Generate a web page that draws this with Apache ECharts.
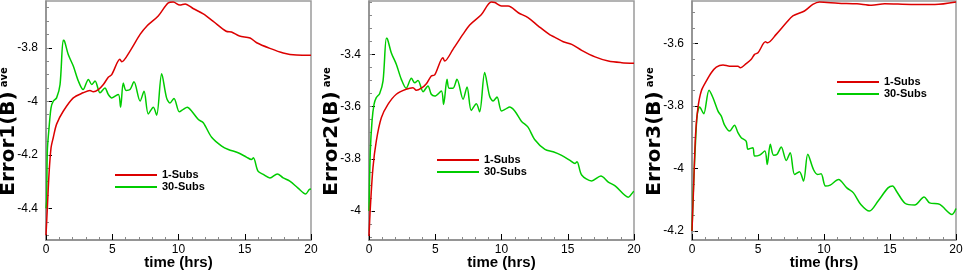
<!DOCTYPE html>
<html>
<head>
<meta charset="utf-8">
<script src="https://cdn.jsdelivr.net/npm/echarts@6/dist/echarts.min.js"></script>
<style>
  html, body { margin: 0; padding: 0; background: #fff; }
  #chart { width: 964px; height: 276px; }
</style>
</head>
<body>
<div id="chart"></div>
<script>
// time (hrs), value pairs
const err1Subs1 = [[0,-4.50],[0.1,-4.40],[0.23,-4.27],[0.38,-4.174],[0.55,-4.135],[0.8,-4.085],[1.3,-4.037],[2.06,-3.987],[2.8,-3.968],[3.32,-3.959],[3.57,-3.964],[3.95,-3.956],[4.33,-3.937],[4.7,-3.910],[4.96,-3.900],[5.58,-3.843],[5.71,-3.852],[6.34,-3.812],[7.1,-3.750],[7.6,-3.719],[8.47,-3.681],[9.23,-3.632],[9.6,-3.629],[10.1,-3.640],[10.5,-3.636],[11.1,-3.653],[11.87,-3.673],[12.6,-3.700],[13.6,-3.738],[14.0,-3.741],[14.6,-3.756],[15.4,-3.763],[15.9,-3.781],[16.9,-3.802],[17.9,-3.819],[18.9,-3.827],[20,-3.828]];
const err1Subs30 = [[0,-4.40],[0.05,-4.37],[0.1,-4.186],[0.23,-4.099],[0.38,-4.024],[0.55,-3.999],[0.8,-3.987],[1.06,-3.937],[1.3,-3.772],[1.4,-3.775],[1.68,-3.825],[2.06,-3.868],[2.44,-3.924],[2.8,-3.956],[3.2,-3.918],[3.45,-3.937],[3.7,-3.924],[4.08,-3.968],[4.45,-3.950],[4.7,-3.974],[4.96,-3.987],[5.46,-3.974],[5.63,-4.022],[5.83,-3.931],[6.04,-3.959],[6.34,-3.956],[6.64,-3.927],[7.1,-3.999],[7.4,-3.962],[7.72,-4.047],[8.1,-4.022],[8.35,-4.052],[8.73,-3.897],[9.1,-3.987],[9.36,-4.006],[9.66,-3.989],[10.06,-4.039],[10.36,-4.030],[10.66,-4.022],[11.0,-4.037],[11.5,-4.068],[11.87,-4.080],[12.5,-4.134],[13.26,-4.167],[13.76,-4.180],[14.5,-4.192],[15.15,-4.209],[15.5,-4.217],[15.65,-4.211],[16.0,-4.261],[16.4,-4.273],[16.9,-4.286],[17.46,-4.271],[17.9,-4.286],[18.4,-4.298],[19.0,-4.323],[19.6,-4.346],[19.87,-4.329],[20,-4.327]];

const err2Subs1 = [[0,-4.096],[0.1,-3.988],[0.3,-3.834],[0.55,-3.732],[0.93,-3.643],[1.43,-3.592],[2.06,-3.553],[2.8,-3.534],[3.32,-3.528],[3.57,-3.538],[3.95,-3.530],[4.33,-3.513],[4.7,-3.483],[4.96,-3.479],[5.58,-3.413],[5.71,-3.426],[6.34,-3.381],[7.1,-3.323],[7.6,-3.288],[8.47,-3.249],[9.23,-3.200],[9.5,-3.202],[10.0,-3.215],[10.5,-3.215],[11.27,-3.241],[12.0,-3.260],[12.78,-3.292],[13.66,-3.326],[14.0,-3.334],[14.66,-3.352],[15.3,-3.362],[16.05,-3.385],[17.06,-3.410],[18.06,-3.426],[19.07,-3.432],[20,-3.434]];
const err2Subs30 = [[0,-4.0],[0.1,-3.770],[0.23,-3.655],[0.38,-3.592],[0.55,-3.566],[0.8,-3.551],[1.06,-3.502],[1.31,-3.339],[1.4,-3.342],[1.68,-3.394],[2.06,-3.438],[2.44,-3.496],[2.8,-3.530],[3.2,-3.492],[3.45,-3.509],[3.7,-3.500],[4.08,-3.543],[4.45,-3.521],[4.7,-3.553],[4.96,-3.560],[5.46,-3.541],[5.63,-3.592],[5.89,-3.496],[6.04,-3.530],[6.34,-3.530],[6.64,-3.496],[7.1,-3.572],[7.4,-3.525],[7.72,-3.615],[8.1,-3.589],[8.35,-3.620],[8.73,-3.470],[9.1,-3.560],[9.36,-3.579],[9.66,-3.564],[10.0,-3.617],[10.4,-3.607],[10.6,-3.602],[11.0,-3.617],[11.5,-3.656],[12.0,-3.679],[12.5,-3.726],[13.28,-3.764],[13.9,-3.773],[14.5,-3.786],[15.17,-3.806],[15.55,-3.818],[15.7,-3.811],[16.05,-3.862],[16.8,-3.885],[17.5,-3.866],[18.06,-3.889],[18.6,-3.905],[19.57,-3.947],[19.95,-3.926],[20,-3.925]];

const err3Subs1 = [[0,-4.20],[0.12,-4.062],[0.27,-3.890],[0.45,-3.805],[0.7,-3.752],[1.08,-3.720],[1.46,-3.693],[1.84,-3.675],[2.35,-3.668],[2.85,-3.672],[3.48,-3.672],[3.66,-3.677],[4.1,-3.664],[4.49,-3.650],[4.74,-3.634],[5.0,-3.629],[5.57,-3.594],[5.73,-3.597],[6.38,-3.570],[7.14,-3.533],[7.64,-3.511],[8.52,-3.495],[9.15,-3.474],[9.66,-3.466],[11.07,-3.470],[12.5,-3.472],[13.6,-3.477],[14.6,-3.472],[16.6,-3.474],[18.4,-3.474],[20,-3.466]];
const err3Subs30 = [[0,-4.20],[0.12,-4.050],[0.27,-3.912],[0.4,-3.826],[0.58,-3.803],[0.83,-3.821],[0.9,-3.824],[1.29,-3.749],[1.59,-3.773],[1.97,-3.816],[2.22,-3.832],[2.47,-3.861],[2.85,-3.880],[3.22,-3.861],[3.48,-3.885],[3.73,-3.901],[4.1,-3.912],[4.24,-3.938],[4.61,-3.933],[4.74,-3.960],[5.12,-3.957],[5.52,-3.944],[5.7,-3.987],[5.93,-3.922],[6.18,-3.957],[6.43,-3.955],[6.76,-3.931],[7.14,-3.974],[7.44,-3.949],[7.77,-4.019],[8.14,-4.010],[8.45,-4.040],[8.77,-3.954],[9.2,-4.003],[9.52,-4.019],[9.78,-4.017],[10.11,-4.056],[10.47,-4.053],[11.1,-4.035],[11.73,-4.062],[12.23,-4.078],[12.79,-4.115],[13.44,-4.136],[14.1,-4.104],[14.85,-4.062],[15.2,-4.056],[15.48,-4.072],[16.16,-4.112],[16.87,-4.117],[17.58,-4.091],[18.0,-4.110],[18.77,-4.115],[19.7,-4.147],[20,-4.128]];

// y tick labels per panel
const yTicks1 = [-4.4, -4.2, -4, -3.8];
const yTicks2 = [-4, -3.8, -3.6, -3.4];
const yTicks3 = [-4.2, -4, -3.8, -3.6];
const yRange1 = [-4.518, -3.625];
const yRange2 = [-4.111, -3.196];
const yRange3 = [-4.229, -3.463];
const yNames = ['Error1(B)', 'Error2(B)', 'Error3(B)'];
const seriesNames = ['1-Subs', '30-Subs'];

const RED = '#dc0000';
const GREEN = '#00cc00';
const FONT = 'Liberation Sans, Arial, sans-serif';
const TITLE_FONT = 'DejaVu Sans, sans-serif';

function minorTicks(range) {
    // every 0.05 inside the range
    let out = [];
    let start = Math.ceil(range[0] / 0.05 - 1e-6);
    for (let k = start; k * 0.05 <= range[1] + 1e-9; k++) {
        out.push(Math.round(k * 5) / 100);
    }
    return out;
}

const chart = echarts.init(document.getElementById('chart'));

const grids = [
    {left: 46, top: 1, width: 265, height: 239},
    {left: 369, top: 1, width: 265, height: 239},
    {left: 692, top: 1, width: 264, height: 239}
].map(g => Object.assign({show: true, borderColor: '#9a9a9a', borderWidth: 1.5,
    containLabel: false, outerBoundsMode: 'none'}, g));

const ranges = [yRange1, yRange2, yRange3];
const ticks = [yTicks1, yTicks2, yTicks3];

const xAxes = [0, 1, 2].map(i => ({
    type: 'value', gridIndex: i, min: 0, max: 20, interval: 5,
    axisLine: {lineStyle: {color: '#8c8c8c', width: 1.5}},
    axisTick: {inside: true, length: 6, lineStyle: {color: '#000'}},
    minorTick: {show: true, splitNumber: 5, length: 3, lineStyle: {color: '#888'}},
    splitLine: {show: false},
    axisLabel: {color: '#000', fontSize: 12, fontFamily: FONT, margin: 4},
    name: 'time (hrs)', nameLocation: 'middle', nameGap: 15, nameMoveOverlap: false,
    nameTextStyle: {color: '#000', fontSize: 15, fontWeight: 'bold', fontFamily: FONT}
}));

const yMajor = [0, 1, 2].map(i => ({
    type: 'value', gridIndex: i, position: 'left', min: ranges[i][0], max: ranges[i][1],
    axisLine: {show: true, lineStyle: {color: '#8c8c8c', width: 1.5}},
    axisTick: {show: true, inside: true, length: 6, customValues: ticks[i], lineStyle: {color: '#000'}},
    axisLabel: {color: '#000', fontSize: 12, fontFamily: FONT, margin: 8,
        customValues: ticks[i], formatter: v => String(v)},
    splitLine: {show: false},
    name: '{t|' + yNames[i] + '}{s|ave}', nameLocation: 'middle', nameGap: 28, nameMoveOverlap: false,
    nameTextStyle: {
        color: '#000', fontFamily: TITLE_FONT,
        padding: [0, 22, 0, 0],
        rich: {
            t: {fontSize: 20, fontWeight: 'bold', fontFamily: TITLE_FONT, color: '#000', lineHeight: 19},
            s: {fontSize: 10, fontWeight: 'bold', fontFamily: TITLE_FONT, color: '#000', verticalAlign: 'top', padding: [0, 0, 0, 4]}
        }
    }
}));

// second y axis per panel just for the small 0.05 ticks
const yMinor = [0, 1, 2].map(i => ({
    type: 'value', gridIndex: i, position: 'left', offset: 0, min: ranges[i][0], max: ranges[i][1],
    axisLine: {show: false},
    axisTick: {show: true, inside: true, length: 3, customValues: minorTicks(ranges[i]), lineStyle: {color: '#888'}},
    axisLabel: {show: false},
    splitLine: {show: false}
}));

const allData = [[err1Subs1, err1Subs30], [err2Subs1, err2Subs30], [err3Subs1, err3Subs30]];
const series = [];
allData.forEach((pair, i) => {
    pair.forEach((d, j) => {
        series.push({
            name: seriesNames[j], type: 'line', xAxisIndex: i, yAxisIndex: i,
            data: d, showSymbol: false, smooth: 0.3, clip: true,
            lineStyle: {color: j === 0 ? RED : GREEN, width: 1.5},
            itemStyle: {color: j === 0 ? RED : GREEN},
            z: j === 0 ? 3 : 2
        });
    });
});

const legendPos = [[110, 164], [432, 149], [832, 71]];
const legends = legendPos.map(p => ({
    data: seriesNames, left: p[0], top: p[1], orient: 'vertical',
    icon: 'rect', itemWidth: 42, itemHeight: 2, itemGap: 0,
    textStyle: {color: '#000', fontSize: 11, fontWeight: 'bold', fontFamily: FONT, lineHeight: 12}
}));

chart.setOption({
    animation: false,
    grid: grids,
    xAxis: xAxes,
    yAxis: yMajor.concat(yMinor),
    legend: legends,
    series: series
});
</script>
</body>
</html>
